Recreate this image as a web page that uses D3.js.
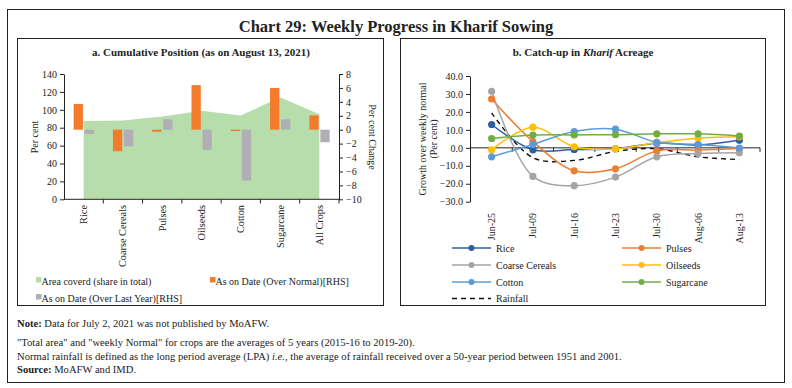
<!DOCTYPE html>
<html><head><meta charset="utf-8">
<script src="https://cdn.jsdelivr.net/npm/d3@7/dist/d3.min.js"></script>
<style>
body{margin:0;background:#fff;}
text{font-family:"Liberation Serif",serif;fill:#222;}
</style></head>
<body><svg id="c" width="792" height="388"></svg>
<script>
// ---- Data: panel a ----
const cropsA = ["Rice","Coarse Cereals","Pulses","Oilseeds","Cotton","Sugarcane","All Crops"];
const areaCovered = [87.5, 88, 92.5, 99, 93.5, 114, 95];
const overNormal = [3.7, -3.1, -0.3, 6.4, -0.2, 6.0, 2.05];
const overLastYear = [-0.6, -2.4, 1.5, -2.9, -7.3, 1.5, -1.8];
const leftTicks = [0,20,40,60,80,100,120,140];
const rightTicks = [-10,-8,-6,-4,-2,0,2,4,6,8];

// ---- Data: panel b ----
const weeks = ["Jun-25","Jul-09","Jul-16","Jul-23","Jul-30","Aug-06","Aug-13"];
const rice = [13, -1.1, -0.9, -0.5, 2.6, 1.6, 4.2];
const pulses = [27.2, 3.5, -12.8, -11.7, -1.7, -1.3, -0.4];
const coarse = [31.5, -15.9, -21.1, -16.3, -5, -3.2, -2.8];
const oilseeds = [-1.1, 11.5, 0.6, -0.6, 3, 5.4, 6.2];
const cotton = [-5, 1.9, 9.1, 10.4, 3.1, 1.8, -0.1];
const sugarcane = [5.2, 7.1, 7.2, 7.3, 7.8, 7.8, 6.6];
const rainfall = [19.5, -5.5, -7, -2, -0.5, -5, -6.5];
const bTicks = [-30,-20,-10,0,10,20,30,40];

const svg = d3.select("#c");
// frames
svg.append("rect").attr("x",7.5).attr("y",9.5).attr("width",777).attr("height",373).attr("fill","none").attr("stroke","#222").attr("stroke-width",1);
svg.append("rect").attr("x",17.5).attr("y",38.5).attr("width",366).attr("height",267).attr("fill","none").attr("stroke","#222").attr("stroke-width",1);
svg.append("rect").attr("x",400.5).attr("y",38.5).attr("width",365).attr("height",267).attr("fill","none").attr("stroke","#222").attr("stroke-width",1);

svg.append("text").attr("x",396).attr("y",32).attr("text-anchor","middle").attr("font-size",16.5).attr("font-weight","bold").text("Chart 29: Weekly Progress in Kharif Sowing");
svg.append("text").attr("x",201).attr("y",56).attr("text-anchor","middle").attr("font-size",11).attr("font-weight","bold").text("a. Cumulative Position (as on August 13, 2021)");
const tb = svg.append("text").attr("x",583).attr("y",56).attr("text-anchor","middle").attr("font-size",11).attr("font-weight","bold");
tb.append("tspan").text("b. Catch-up in ");
tb.append("tspan").attr("font-style","italic").text("Kharif");
tb.append("tspan").text(" Acreage");

// ---------- Panel a ----------
const xA = d3.scaleBand().domain(cropsA).range([64,339]);
const yL = d3.scaleLinear().domain([0,140]).range([199.3,74]);
const yR = d3.scaleLinear().domain([-10,8]).range([199.3,74]);
const cx = i => xA(cropsA[i]) + xA.bandwidth()/2;

const area = d3.area().x((d,i)=>cx(i)).y0(yL(0)).y1(d=>yL(d));
svg.append("path").datum(areaCovered).attr("d",area).attr("fill","#B6DDAB");

svg.selectAll(".on").data(overNormal).enter().append("rect")
  .attr("x",(d,i)=>cx(i)-10).attr("width",9.3)
  .attr("y",d=>yR(Math.max(0,d))).attr("height",d=>Math.abs(yR(d)-yR(0)))
  .attr("fill","#F47B2B");
svg.selectAll(".ol").data(overLastYear).enter().append("rect")
  .attr("x",(d,i)=>cx(i)+1).attr("width",9.3)
  .attr("y",d=>yR(Math.max(0,d))).attr("height",d=>Math.abs(yR(d)-yR(0)))
  .attr("fill","#AFAFB5");

const axL = svg.append("g").attr("transform","translate(64,0)").call(d3.axisLeft(yL).tickValues(leftTicks).tickSize(4).tickSizeOuter(0));
const axR = svg.append("g").attr("transform","translate(339,0)").call(d3.axisRight(yR).tickValues(rightTicks).tickSize(4).tickSizeOuter(0));
[axL,axR].forEach(a=>{a.selectAll("path,line").attr("stroke","#222");a.selectAll("text").attr("font-size",10).attr("font-family","Liberation Serif").attr("fill","#222");});
// x axis a
const gxa = svg.append("g");
gxa.append("line").attr("x1",64).attr("x2",339).attr("y1",199.3).attr("y2",199.3).attr("stroke","#222");
cropsA.forEach((c,i)=>{
  const b = xA(c);
  gxa.append("line").attr("x1",b+xA.bandwidth()).attr("x2",b+xA.bandwidth()).attr("y1",199.3).attr("y2",203.5).attr("stroke","#222");
  gxa.append("text").attr("transform",`translate(${cx(i)+3.5},205) rotate(-90)`).attr("text-anchor","end").attr("font-size",10.3).text(c);
});
svg.append("text").attr("transform","translate(38,137) rotate(-90)").attr("text-anchor","middle").attr("font-size",10).text("Per cent");
svg.append("text").attr("transform","translate(369,137) rotate(90)").attr("text-anchor","middle").attr("font-size",10).text("Per cent Change");

// legend a
const legA = [
  {t:"Area coverd (share in total)",c:"#B6DDAB",x:36,y:281},
  {t:"As on Date (Over Normal)[RHS]",c:"#F47B2B",x:210,y:281},
  {t:"As on Date (Over Last Year)[RHS]",c:"#AFAFB5",x:36,y:298}
];
legA.forEach(l=>{
  svg.append("rect").attr("x",l.x).attr("y",l.y-4).attr("width",5.5).attr("height",5.5).attr("fill",l.c);
  svg.append("text").attr("x",l.x+5.5).attr("y",l.y+3.5).attr("font-size",10).text(l.t);
});

// ---------- Panel b ----------
const xB = d3.scaleBand().domain(weeks).range([471,760]);
const yB = d3.scaleLinear().domain([-30,40]).range([201.7,76]);
const bx = i => xB(weeks[i]) + xB.bandwidth()/2;

const gyb = svg.append("g").attr("transform","translate(470,0)").call(d3.axisLeft(yB).tickValues(bTicks).tickFormat(d3.format(".1f")).tickSize(4).tickSizeOuter(0));
gyb.selectAll("path,line").attr("stroke","#222");
gyb.selectAll("text").attr("font-size",10).attr("font-family","Liberation Serif").attr("fill","#222");
const gxb = svg.append("g");
gxb.append("line").attr("x1",470).attr("x2",760).attr("y1",yB(0)).attr("y2",yB(0)).attr("stroke","#222");
weeks.forEach((w,i)=>{
  const e = xB(w)+xB.bandwidth();
  gxb.append("line").attr("x1",e).attr("x2",e).attr("y1",yB(0)).attr("y2",yB(0)+4).attr("stroke","#222");
  gxb.append("text").attr("transform",`translate(${bx(i)+3.5},213) rotate(-90)`).attr("text-anchor","end").attr("font-size",10).text(w);
});
svg.append("text").attr("transform","translate(426,139) rotate(-90)").attr("text-anchor","middle").attr("font-size",10).text("Growth over weekly normal");
svg.append("text").attr("transform","translate(437,139) rotate(-90)").attr("text-anchor","middle").attr("font-size",10).text("(Per cent)");

const series = [
  {n:"Rice",v:rice,c:"#2E5FA1"},
  {n:"Pulses",v:pulses,c:"#ED7D31"},
  {n:"Coarse Cereals",v:coarse,c:"#A5A5A5"},
  {n:"Oilseeds",v:oilseeds,c:"#FFC000"},
  {n:"Cotton",v:cotton,c:"#5B9BD5"},
  {n:"Sugarcane",v:sugarcane,c:"#70AD47"}
];
const line = d3.line().x((d,i)=>bx(i)).y(d=>yB(d)).curve(d3.curveCatmullRom.alpha(0.5));
svg.append("path").datum(rainfall).attr("d",line).attr("fill","none").attr("stroke","#111").attr("stroke-width",1.4).attr("stroke-dasharray","5,4");
series.forEach(s=>{
  svg.append("path").datum(s.v).attr("d",line).attr("fill","none").attr("stroke",s.c).attr("stroke-width",1.5);
});
series.forEach(s=>{
  svg.selectAll(null).data(s.v).enter().append("circle").attr("cx",(d,i)=>bx(i)).attr("cy",d=>yB(d)).attr("r",3.6).attr("fill",s.c);
});

// legend b
const legB = [
  {n:"Rice",c:"#2E5FA1",x:452,y:248},
  {n:"Pulses",c:"#ED7D31",x:622,y:248},
  {n:"Coarse Cereals",c:"#A5A5A5",x:452,y:265},
  {n:"Oilseeds",c:"#FFC000",x:622,y:265},
  {n:"Cotton",c:"#5B9BD5",x:452,y:282},
  {n:"Sugarcane",c:"#70AD47",x:622,y:282}
];
legB.forEach(l=>{
  svg.append("line").attr("x1",l.x).attr("x2",l.x+39).attr("y1",l.y).attr("y2",l.y).attr("stroke",l.c).attr("stroke-width",1.5);
  svg.append("circle").attr("cx",l.x+19.5).attr("cy",l.y).attr("r",3).attr("fill",l.c);
  svg.append("text").attr("x",l.x+44).attr("y",l.y+3.5).attr("font-size",10).text(l.n);
});
svg.append("line").attr("x1",452).attr("x2",491).attr("y1",298.5).attr("y2",298.5).attr("stroke","#111").attr("stroke-width",1.4).attr("stroke-dasharray","5,4");
svg.append("text").attr("x",496).attr("y",302).attr("font-size",10).text("Rainfall");

// notes
const fs = 10.6;
const n1 = svg.append("text").attr("x",17).attr("y",327).attr("font-size",fs);
n1.append("tspan").attr("font-weight","bold").text("Note: ");
n1.append("tspan").text("Data for July 2, 2021 was not published by MoAFW.");
svg.append("text").attr("x",17).attr("y",346).attr("font-size",fs).text("\"Total area\" and \"weekly Normal\" for crops are the averages of 5 years (2015-16 to 2019-20).");
const n3 = svg.append("text").attr("x",17).attr("y",359.5).attr("font-size",fs);
n3.append("tspan").text("Normal rainfall is defined as the long period average (LPA) ");
n3.append("tspan").attr("font-style","italic").text("i.e.");
n3.append("tspan").text(", the average of rainfall received over a 50-year period between 1951 and 2001.");
const n4 = svg.append("text").attr("x",17).attr("y",373).attr("font-size",fs);
n4.append("tspan").attr("font-weight","bold").text("Source: ");
n4.append("tspan").text("MoAFW and IMD.");
</script></body></html>
